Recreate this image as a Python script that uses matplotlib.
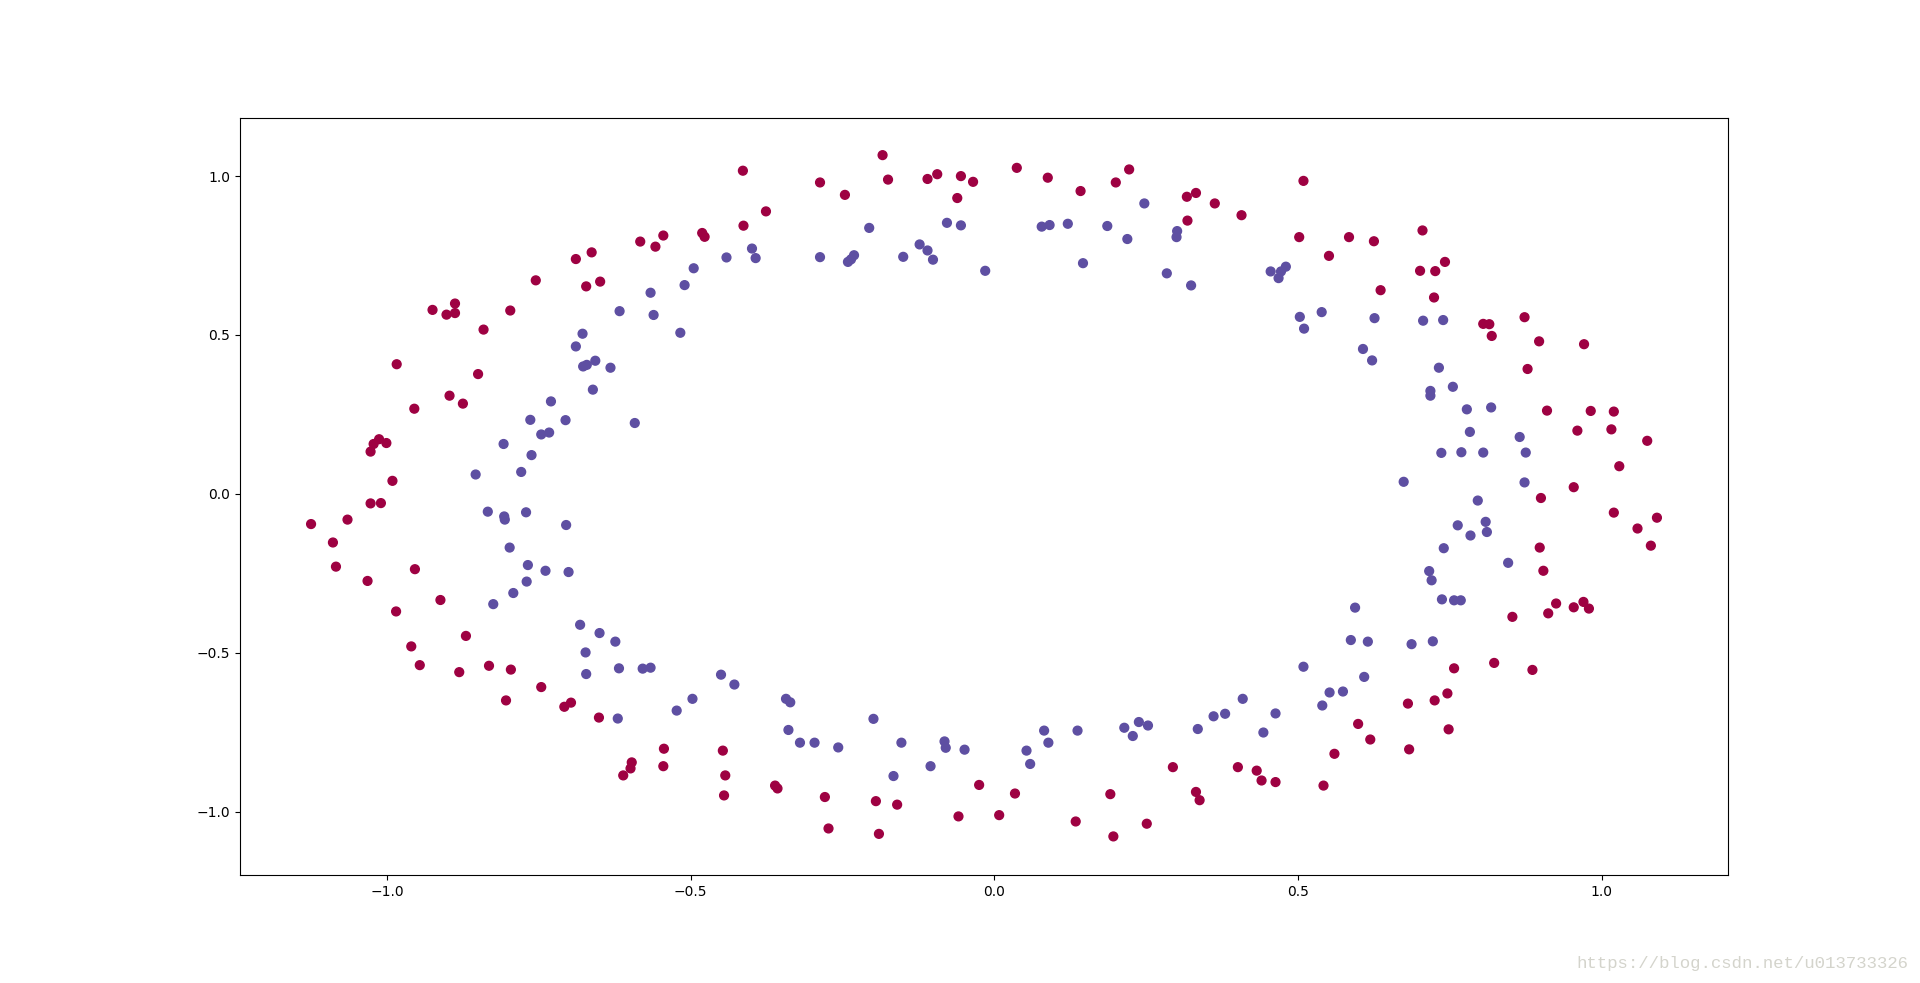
import numpy as np
import matplotlib
matplotlib.use("Agg")
import matplotlib.pyplot as plt

# Outer circle (label 0)
outer_x = [-0.583, -0.663, -0.689, -0.755, -0.649, -0.672, -0.888, -0.925, -0.902, -0.888, -0.797, -0.841, -0.984, -0.850, -0.897, -0.875, -0.955,
           -0.558, -0.545, -0.481, -0.477, -0.414, -0.413, -0.376, -0.287, -0.246, -0.184, -0.175, -0.110, -0.094, -0.055, -0.035, -0.061,
           0.037, 0.088, 0.142, 0.200, 0.222, 0.317, 0.332, 0.318, 0.363, 0.407, 0.509, 0.502, 0.551,
           0.584, 0.625, 0.705, 0.742, 0.701, 0.726, 0.636, 0.724, 0.805, 0.815, 0.819, 0.873, 0.897, 0.971, 0.878, 0.910, 0.982, 1.020,
           -1.013, -1.022, -1.001, -1.027, -0.991, -1.027, -1.010, -1.125, -1.065, -1.089, -1.084, -1.032, -0.954,
           0.960, 1.016, 1.075, 1.029, 0.954, 0.900, 1.020, 1.091, 1.059, 1.081, 0.898, 0.904,
           -0.985, -0.912, -0.870, -0.960, -0.946, -0.881, -0.832, -0.796, -0.746, -0.804, -0.708, -0.697, -0.651, -0.597, -0.599, -0.611,
           -0.544, -0.545, -0.447, -0.443, -0.445, -0.361, -0.357, -0.279, -0.273, -0.195, -0.190, -0.160, -0.059, -0.025,
           0.008, 0.034, 0.134, 0.191, 0.196, 0.251, 0.294, 0.332, 0.338, 0.401, 0.432, 0.440, 0.463, 0.542, 0.560,
           0.853, 0.912, 0.925, 0.954, 0.970, 0.979, 0.757, 0.823, 0.886, 0.681, 0.725, 0.746, 0.599, 0.619, 0.683, 0.748]
outer_y = [0.794, 0.760, 0.739, 0.672, 0.668, 0.653, 0.599, 0.579, 0.564, 0.569, 0.577, 0.517, 0.408, 0.377, 0.309, 0.284, 0.268,
           0.778, 0.813, 0.821, 0.809, 1.017, 0.844, 0.889, 0.980, 0.941, 1.066, 0.989, 0.991, 1.006, 1.000, 0.982, 0.931,
           1.026, 0.995, 0.953, 0.980, 1.021, 0.935, 0.947, 0.860, 0.914, 0.877, 0.985, 0.808, 0.749,
           0.808, 0.795, 0.829, 0.730, 0.702, 0.701, 0.641, 0.618, 0.535, 0.534, 0.497, 0.556, 0.480, 0.471, 0.393, 0.262, 0.261, 0.259,
           0.172, 0.157, 0.160, 0.133, 0.041, -0.030, -0.029, -0.095, -0.081, -0.153, -0.229, -0.274, -0.237,
           0.199, 0.203, 0.167, 0.087, 0.021, -0.013, -0.059, -0.075, -0.109, -0.163, -0.169, -0.242,
           -0.370, -0.334, -0.447, -0.480, -0.539, -0.561, -0.541, -0.553, -0.608, -0.650, -0.670, -0.657, -0.704, -0.845, -0.864, -0.886,
           -0.802, -0.857, -0.808, -0.886, -0.949, -0.918, -0.927, -0.954, -1.053, -0.967, -1.070, -0.978, -1.015, -0.916,
           -1.011, -0.943, -1.031, -0.945, -1.078, -1.038, -0.860, -0.938, -0.964, -0.860, -0.871, -0.902, -0.907, -0.918, -0.818,
           -0.387, -0.376, -0.345, -0.357, -0.340, -0.361, -0.549, -0.532, -0.554, -0.660, -0.650, -0.628, -0.724, -0.773, -0.804, -0.741]

# Inner circle (label 1)
inner_x = [-0.617, -0.678, -0.689, -0.657, -0.671, -0.677, -0.632, -0.661, -0.730,
           -0.566, -0.561, -0.517, -0.510, -0.495, -0.441, -0.399, -0.393, -0.287, -0.231, -0.241, -0.236, -0.206, -0.150, -0.123, -0.110, -0.101, -0.078, -0.055, -0.015,
           0.078, 0.091, 0.121, 0.186, 0.146, 0.219, 0.247, 0.301, 0.300, 0.284, 0.324, 0.455, 0.468, 0.472, 0.480, 0.503, 0.539, 0.510,
           0.626, 0.706, 0.739, 0.607, 0.622, 0.732, 0.755, 0.718, 0.718, 0.778, 0.818,
           -0.764, -0.706, -0.592, -0.746, -0.733, -0.808, -0.762, -0.779, -0.854, -0.834, -0.807, -0.806, -0.771, -0.705, -0.798, -0.768, -0.739, -0.701, -0.770,
           0.783, 0.865, 0.736, 0.769, 0.805, 0.875, 0.674, 0.873, 0.796, 0.809, 0.763, 0.784, 0.811, 0.740, 0.846, 0.716, 0.720,
           -0.825, -0.792, -0.682, -0.650, -0.624, -0.673, -0.672, -0.618, -0.620,
           -0.579, -0.566, -0.523, -0.497, -0.450, -0.428, -0.343, -0.336, -0.339, -0.320, -0.296, -0.257, -0.199, -0.153, -0.166, -0.105, -0.082, -0.080, -0.049,
           0.082, 0.089, 0.053, 0.059, 0.137, 0.214, 0.228, 0.238, 0.253, 0.335, 0.361, 0.380, 0.409, 0.443, 0.463, 0.509, 0.540, 0.552, 0.574,
           0.594, 0.737, 0.757, 0.768, 0.587, 0.615, 0.687, 0.722, 0.609]
inner_y = [0.575, 0.504, 0.464, 0.419, 0.406, 0.401, 0.397, 0.328, 0.291,
           0.633, 0.563, 0.507, 0.657, 0.710, 0.744, 0.772, 0.742, 0.745, 0.751, 0.730, 0.738, 0.837, 0.746, 0.785, 0.766, 0.737, 0.853, 0.845, 0.702,
           0.841, 0.846, 0.850, 0.843, 0.726, 0.802, 0.914, 0.827, 0.808, 0.694, 0.656, 0.700, 0.679, 0.700, 0.715, 0.557, 0.572, 0.520,
           0.553, 0.545, 0.547, 0.456, 0.420, 0.397, 0.337, 0.324, 0.309, 0.266, 0.272,
           0.233, 0.232, 0.223, 0.187, 0.193, 0.157, 0.122, 0.069, 0.061, -0.056, -0.071, -0.081, -0.058, -0.098, -0.169, -0.224, -0.242, -0.246, -0.276,
           0.195, 0.179, 0.129, 0.131, 0.130, 0.130, 0.038, 0.036, -0.021, -0.088, -0.099, -0.131, -0.120, -0.171, -0.217, -0.243, -0.272,
           -0.347, -0.312, -0.412, -0.438, -0.465, -0.499, -0.567, -0.549, -0.707,
           -0.550, -0.547, -0.682, -0.645, -0.569, -0.600, -0.645, -0.656, -0.743, -0.783, -0.783, -0.798, -0.708, -0.783, -0.888, -0.857, -0.779, -0.799, -0.805,
           -0.745, -0.783, -0.808, -0.850, -0.745, -0.736, -0.762, -0.718, -0.729, -0.740, -0.700, -0.692, -0.645, -0.751, -0.691, -0.544, -0.666, -0.625, -0.622,
           -0.358, -0.332, -0.335, -0.335, -0.460, -0.465, -0.473, -0.464, -0.576]

watermark = "https://blog.csdn.net/u013733326"

X = np.array(outer_x + inner_x)
Y = np.array(outer_y + inner_y)
labels = np.array([0] * len(outer_x) + [1] * len(inner_x))

fig = plt.figure(figsize=(19.2, 9.83), dpi=100)
ax = fig.add_subplot(111)
ax.scatter(X, Y, c=labels, s=40, cmap=plt.cm.Spectral)
ax.set_xlim(-1.242, 1.208)
ax.set_ylim(-1.199, 1.183)

fig.text(0.994, 0.02, watermark, ha='right', va='center', fontsize=12.5,
         family='Liberation Mono', color='#d4d4cc')

fig.savefig("out.png", dpi=100)
